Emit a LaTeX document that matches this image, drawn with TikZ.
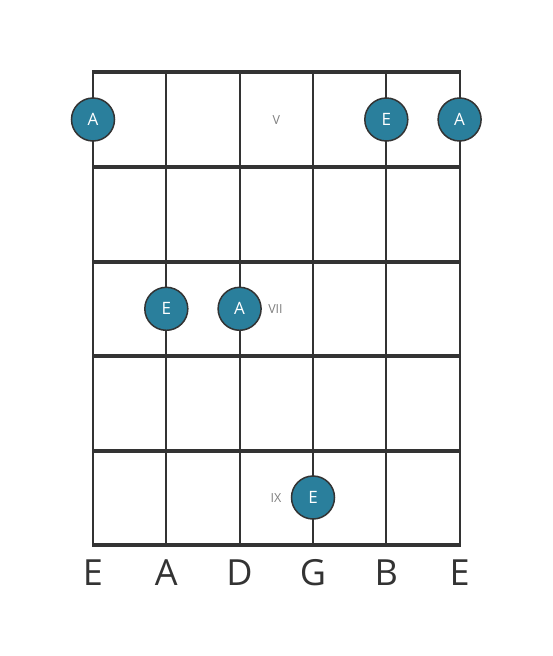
\documentclass[tikz,border=0pt]{standalone}
\usepackage{fontspec}
\setmainfont{Open Sans}
\definecolor{dotblue}{HTML}{2A7F9C}
\definecolor{gridgray}{HTML}{333333}
\definecolor{posgray}{HTML}{808080}
\begin{document}
\begin{tikzpicture}[x=1pt,y=-1pt]
			\tikzstyle{stringline}=[draw=gridgray,line width=2pt]
			\tikzstyle{fretline}=[draw=gridgray,line width=4pt]
			\tikzstyle{note}=[circle,draw=gridgray,line width=1.5pt,fill=dotblue,text=white,minimum size=43pt,inner sep=0pt,font=\fontsize{17}{17}\selectfont]
			\tikzstyle{fretnum}=[text=posgray,font=\fontsize{12.5}{12.5}\selectfont]
			\tikzstyle{openname}=[text=gridgray,font=\fontsize{36}{36}\selectfont]
			\useasboundingbox (0,0) rectangle (553,656);

			% strings
			\foreach \s/\x in {1/93,2/166.3,3/239.6,4/313,5/386.3,6/459.6} {
				\coordinate (s\s-top) at (\x,72);
				\coordinate (s\s-bot) at (\x,545);
				\draw[stringline] (s\s-top) -- (s\s-bot);
			}
			% frets
			\foreach \f/\y in {0/72,1/167,2/261.5,3/356,4/450.5,5/545} {
				\coordinate (f\f-l) at (92,\y);
				\coordinate (f\f-r) at (460.6,\y);
				\draw[fretline] (f\f-l) -- (f\f-r);
			}

			\begin{scope}
			\node[note] (5-1) at (93,119.5)    {A};
			\node[note] (5-5) at (386.3,119.5) {E};
			\node[note] (5-6) at (459.6,119.5) {A};
			\node[note] (7-2) at (166.3,308.8) {E};
			\node[note] (7-3) at (239.6,308.8) {A};
			\node[note] (9-4) at (313,497.5)   {E};
			\end{scope}

			\node[fretnum] (V)   at (276.3,120.5) {V};
			\node[fretnum] (VII) at (275.5,309.5) {VII};
			\node[fretnum] (IX)  at (276,498)   {IX};

			\node[openname] (o1) at (93,573)    {E};
			\node[openname] (o2) at (166.3,573) {A};
			\node[openname] (o3) at (239.6,573) {D};
			\node[openname] (o4) at (313,573)   {G};
			\node[openname] (o5) at (386.3,573) {B};
			\node[openname] (o6) at (459.6,573) {E};
		\end{tikzpicture}
\end{document}
